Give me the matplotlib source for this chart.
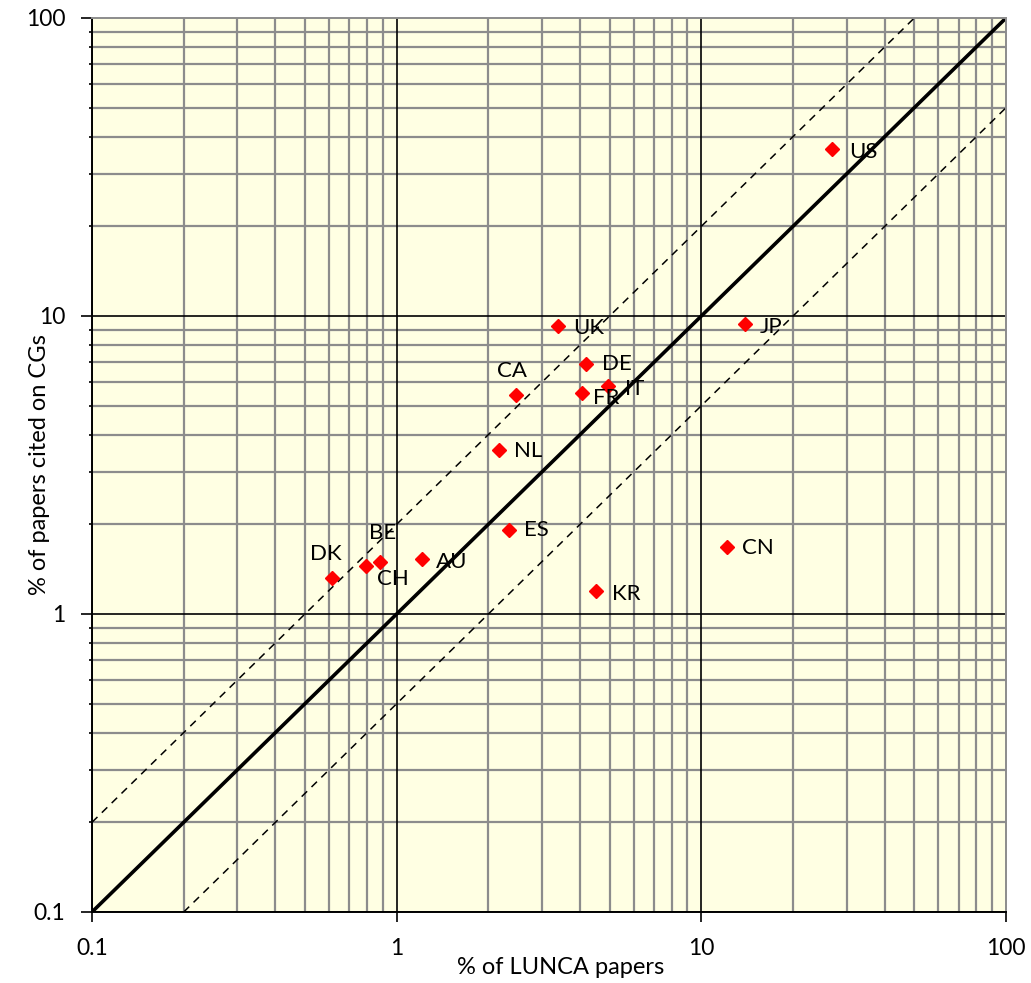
import matplotlib
matplotlib.use("Agg")
import matplotlib.pyplot as plt
from matplotlib.ticker import FixedLocator, NullFormatter, FixedFormatter

plt.rcParams['font.family'] = ['Lato', 'DejaVu Sans']

countries = ["US", "JP", "UK", "DE", "IT", "FR", "CA", "NL", "ES", "CN", "KR", "AU", "CH", "BE", "DK"]
lunca_pct = [26.9, 13.9, 3.39, 4.19, 4.94, 4.06, 2.47, 2.17, 2.33, 12.1, 4.52, 1.21, 0.88, 0.796, 0.614]
cited_pct = [36.3, 9.4, 9.24, 6.9, 5.82, 5.52, 5.43, 3.55, 1.91, 1.68, 1.19, 1.53, 1.49, 1.45, 1.32]

major_ticks = [0.1, 1, 10, 100]
major_labels = ["0.1", "1", "10", "100"]

# label offsets in points (dx, dy)
label_offsets = {
    "US": (12, -2), "JP": (11, -2), "UK": (11, -1),
    "DE": (11, 0), "IT": (12, -2), "FR": (8, -4),
    "CA": (-14, 17), "NL": (11, -1), "ES": (11, 0),
    "CN": (11, -1), "KR": (11, -2), "AU": (10, -2),
    "CH": (-2, -12), "BE": (2, 24), "DK": (-16, 17),
}

fig = plt.figure(figsize=(10.31, 9.83), dpi=100)
ax = fig.add_axes([92/1031, 1-912/983, (1006-92)/1031, (912-18)/983])
ax.set_facecolor("#FFFFE3")
ax.set_xscale("log")
ax.set_yscale("log")
ax.set_xlim(0.1, 100)
ax.set_ylim(0.1, 100)

gray = "#8c8c8c"
minor = [m * d for d in [0.1, 1, 10] for m in range(2, 10)]
for v in minor:
    ax.axvline(v, color=gray, lw=1.6, zorder=1)
    ax.axhline(v, color=gray, lw=1.6, zorder=1)
for v in major_ticks[:-1]:
    ax.axvline(v, color="black", lw=1.2, zorder=1.5)
    ax.axhline(v, color="black", lw=1.2, zorder=1.5)

# reference lines
ax.plot([0.1, 100], [0.1, 100], color="black", lw=2.6, zorder=2)
ax.plot([0.1, 50], [0.2, 100], color="black", lw=1.1, ls=(0, (5, 4)), zorder=2)
ax.plot([0.2, 100], [0.1, 50], color="black", lw=1.1, ls=(0, (5, 4)), zorder=2)

ax.plot(lunca_pct, cited_pct, ls="none", marker="D", ms=7.5, color="#FF0000", mec="#FF0000", zorder=4)

for c, x, y in zip(countries, lunca_pct, cited_pct):
    dx, dy = label_offsets[c]
    ax.annotate(c, (x, y), xytext=(dx, dy), textcoords="offset points", ha="left", va="center",
                fontsize=16, color="black", zorder=5)

ax.xaxis.set_major_locator(FixedLocator(major_ticks))
ax.xaxis.set_major_formatter(FixedFormatter(major_labels))
ax.yaxis.set_major_locator(FixedLocator(major_ticks))
ax.yaxis.set_major_formatter(FixedFormatter(major_labels))
ax.xaxis.set_minor_locator(FixedLocator(minor))
ax.xaxis.set_minor_formatter(NullFormatter())
ax.yaxis.set_minor_locator(FixedLocator(minor))
ax.yaxis.set_minor_formatter(NullFormatter())
ax.tick_params(axis="x", which="major", direction="out", length=7, width=1.2, pad=12, labelsize=16.5)
ax.tick_params(axis="x", which="minor", length=0)
ax.tick_params(axis="y", which="major", direction="out", length=8, width=1.2, pad=11, labelsize=16.5)
ax.tick_params(axis="y", which="minor", direction="out", length=2.2, width=1.2)
ax.spines["left"].set_color("black")
ax.spines["bottom"].set_color("black")
ax.spines["top"].set_color(gray)
ax.spines["right"].set_color(gray)
for s in ax.spines.values():
    s.set_linewidth(1.4)
    s.set_zorder(3)

fig.text(561/1031, 1-968/983, "% of LUNCA papers", ha="center", va="center", fontsize=17)
fig.text(40/1031, 1-465/983, "% of papers cited on CGs", ha="center", va="center", rotation=90, fontsize=17)

fig.savefig("out.png", dpi=100)
